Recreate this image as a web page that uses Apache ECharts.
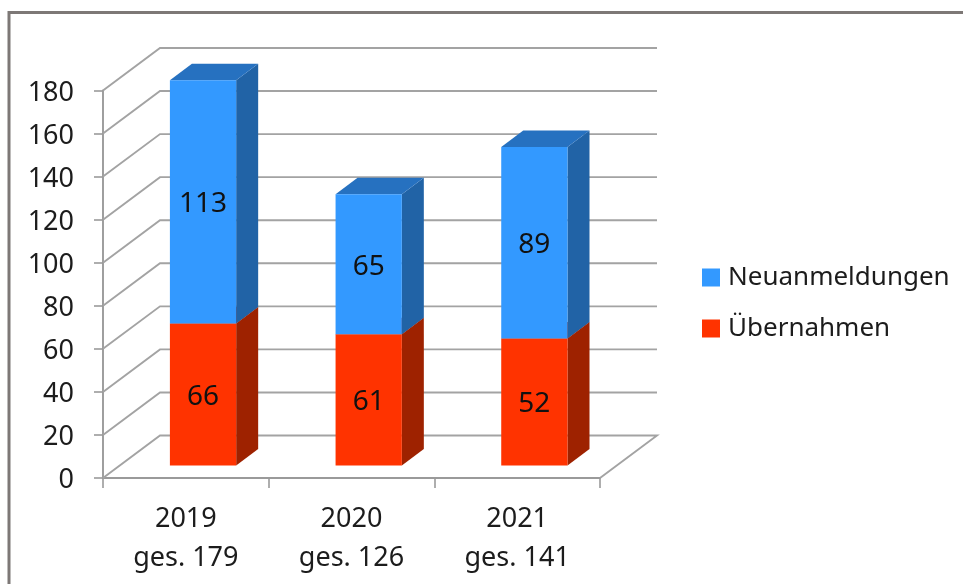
<!DOCTYPE html>
<html><head><meta charset="utf-8">
<style>html,body{margin:0;padding:0;background:#fff}#c{width:963px;height:584px}</style>
<script src="https://cdn.jsdelivr.net/npm/echarts@6/dist/echarts.min.js"></script>
</head><body><div id="c"></div>
<script>
const categories = ['2019\nges. 179', '2020\nges. 126', '2021\nges. 141'];
const seriesNames = ['Neuanmeldungen', 'Übernahmen'];
const neuanmeldungen = [113, 65, 89];
const uebernahmen = [66, 61, 59];            // drawn height of the red bars
const neuLabels = ['113', '65', '89'];
const uebLabels = ['66', '61', '52'];        // printed labels (2021 differs from its drawn height)
const yTicks = [0, 20, 40, 60, 80, 100, 120, 140, 160, 180];

const FONT = '"Noto Sans", sans-serif';
const TEXT = '#1c1c1c', LINE = '#a3a3a3', AXIS = '#9a9a9a';
const WALL_DX = 57, WALL_DY = -42.5;          // chart depth
const BAR_DX = 17.2, BAR_DY = -12.5;          // bar position inside the floor
const DEPTH_DX = 22, DEPTH_DY = -16.5;        // bar depth
const BAR_FRAC = 0.4;

function wallRender(params, api) {
  const v = api.value(0);
  const a = api.coord([0, v]);
  const band = api.size([1, 0])[0];
  const left = a[0] - band / 2;
  const y = a[1];
  const style = { stroke: LINE, lineWidth: 1.9, fill: null };
  const pts = [[left, y], [left + WALL_DX, y + WALL_DY], [left + band * 3 + WALL_DX, y + WALL_DY]];
  if (v === 0) pts.push([left + band * 3, y]);
  return { type: 'polyline', shape: { points: pts }, style, silent: true };
}

function barRender(colors) {
  return function (params, api) {
    const cat = api.value(0), lo = api.value(1), hi = api.value(2);
    const a = api.coord([cat, lo]), b = api.coord([cat, hi]);
    const w = api.size([1, 0])[0] * BAR_FRAC;
    const x0 = a[0] + BAR_DX - w / 2, x1 = x0 + w;
    const yb = a[1] + BAR_DY, yt = b[1] + BAR_DY;
    const d = DEPTH_DX, e = DEPTH_DY;
    const poly = (points, fill) => ({ type: 'polygon', shape: { points }, style: { fill } });
    return {
      type: 'group',
      children: [
        poly([[x1, yb], [x1 + d, yb + e], [x1 + d, yt + e], [x1, yt]], colors.side),
        poly([[x0, yt], [x0 + d, yt + e], [x1 + d, yt + e], [x1, yt]], colors.top),
        poly([[x0, yb], [x1, yb], [x1, yt], [x0, yt]], colors.front),
        { type: 'text', x: (x0 + x1) / 2, y: (yb + yt) / 2 + 2.5,
          style: { text: colors.labels[params.dataIndex], fill: '#111', font: '28px ' + FONT, align: 'center', verticalAlign: 'middle' } }
      ]
    };
  };
}

const redColors = { front: '#FF3300', side: '#9E2200', top: '#BF2A00', labels: uebLabels };
const blueColors = { front: '#3399FF', side: '#2163A6', top: '#2671C0', labels: neuLabels };

const chart = echarts.init(document.getElementById('c'), null, { renderer: 'canvas' });
chart.setOption({
  animation: false,
  backgroundColor: '#fff',
  graphic: [{ type: 'rect', shape: { x: 9, y: 12.5, width: 1000, height: 700 }, style: { fill: null, stroke: '#7d7876', lineWidth: 3 }, silent: true, z: 0 }],
  grid: { left: 103, top: 90.5, width: 497, height: 387.5 },
  legend: {
    orient: 'vertical', left: 697, top: 255, itemWidth: 18, itemHeight: 18, itemGap: 16, icon: 'rect',
    data: seriesNames.map(name => ({ name, itemStyle: { color: name === seriesNames[0] ? blueColors.front : redColors.front } })),
    textStyle: { color: TEXT, fontFamily: FONT, fontSize: 26, lineHeight: 35, padding: [0, 0, 0, 3] }, selectedMode: false
  },
  xAxis: {
    type: 'category', data: categories, boundaryGap: true,
    axisLine: { lineStyle: { color: AXIS, width: 1.9 } },
    axisTick: { show: true, length: 10, alignWithLabel: false, lineStyle: { color: AXIS, width: 1.6 } },
    axisLabel: { color: TEXT, fontFamily: FONT, fontSize: 27, lineHeight: 39, margin: 22, interval: 0 },
    splitLine: { show: false }
  },
  yAxis: {
    type: 'value', min: 0, max: 180, interval: 20,
    axisLine: { show: true, lineStyle: { color: AXIS, width: 1.9 } },
    axisTick: { show: true, length: 9, lineStyle: { color: AXIS, width: 1.6 } },
    axisLabel: { margin: 29, formatter: '{a|{value}}',
      rich: { a: { color: TEXT, fontFamily: FONT, fontSize: 27, padding: [5, 0, 0, 0] } } },
    splitLine: { show: false }
  },
  series: [
    { type: 'custom', name: 'wall', silent: true, clip: false, z: 1, data: yTicks.map(v => [v]), renderItem: wallRender, encode: { y: 0 } },
    { type: 'custom', name: seriesNames[1], clip: false, z: 2, renderItem: barRender(redColors),
      data: categories.map((c, i) => [i, 0, uebernahmen[i]]), encode: { x: 0, y: [1, 2] } },
    { type: 'custom', name: seriesNames[0], clip: false, z: 3, renderItem: barRender(blueColors),
      data: categories.map((c, i) => [i, uebernahmen[i], uebernahmen[i] + neuanmeldungen[i]]), encode: { x: 0, y: [1, 2] } }
  ]
});
</script></body></html>
